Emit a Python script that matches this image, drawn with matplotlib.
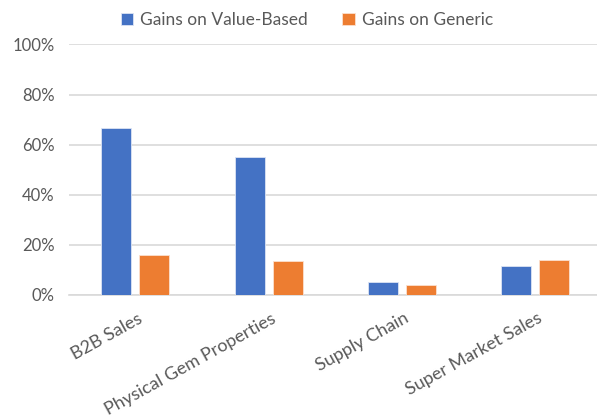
import matplotlib.pyplot as plt
import numpy as np
from matplotlib.ticker import PercentFormatter
from matplotlib.transforms import ScaledTranslation

categories = ["B2B Sales", "Physical Gem Properties", "Supply Chain", "Super Market Sales"]
value_based = [0.667, 0.551, 0.053, 0.115]
generic = [0.158, 0.134, 0.041, 0.138]
series_names = ["Gains on Value-Based", "Gains on Generic"]

blue = "#4472C4"
orange = "#ED7D31"
grid_col = "#D9D9D9"
text_col = "#595959"

plt.rcParams['font.family'] = ['Lato', 'DejaVu Sans']

fig = plt.figure(figsize=(5.97, 4.19), dpi=100)
# plot area runs slightly past the right edge, as in the source image
ax = fig.add_axes([0.115, 0.296, 0.8935, 0.598])

x = np.arange(len(categories))
w = 0.225
ax.bar(x - 0.1425, value_based, w, color=blue, edgecolor="#DCE4F4", linewidth=0.6,
       label=series_names[0], zorder=3)
ax.bar(x + 0.1425, generic, w, color=orange, edgecolor="#FBE0CF", linewidth=0.6,
       label=series_names[1], zorder=3)

ax.set_xlim(-0.5, len(categories) - 0.5)
ax.set_ylim(0, 1.0)
ax.set_yticks(np.arange(0, 1.01, 0.2))
ax.yaxis.set_major_formatter(PercentFormatter(1.0, decimals=0))
ax.grid(axis="y", color=grid_col, linewidth=1.2, zorder=0)
for s in ["top", "right", "left"]:
    ax.spines[s].set_visible(False)
ax.spines["bottom"].set_color(grid_col)
ax.spines["bottom"].set_linewidth(1.2)
ax.tick_params(axis="both", length=0, labelsize=12, colors=text_col)
ax.tick_params(axis="y", pad=10)

ax.set_xticks(x)
ax.set_xticklabels(categories, rotation=29, ha="right", rotation_mode="anchor",
                   fontsize=13)
ax.tick_params(axis="x", pad=11)
# nudge labels a touch right of the category centre
for lab in ax.get_xticklabels():
    lab.set_transform(lab.get_transform() + ScaledTranslation(2 / 100, 0, fig.dpi_scale_trans))

fig.legend(loc="upper center", bbox_to_anchor=(0.514, 1.008), ncol=2, frameon=False,
           fontsize=12.5, handlelength=0.7, handleheight=0.7, columnspacing=2.0,
           handletextpad=0.4, labelcolor=text_col)

fig.savefig("out.png", dpi=100)
